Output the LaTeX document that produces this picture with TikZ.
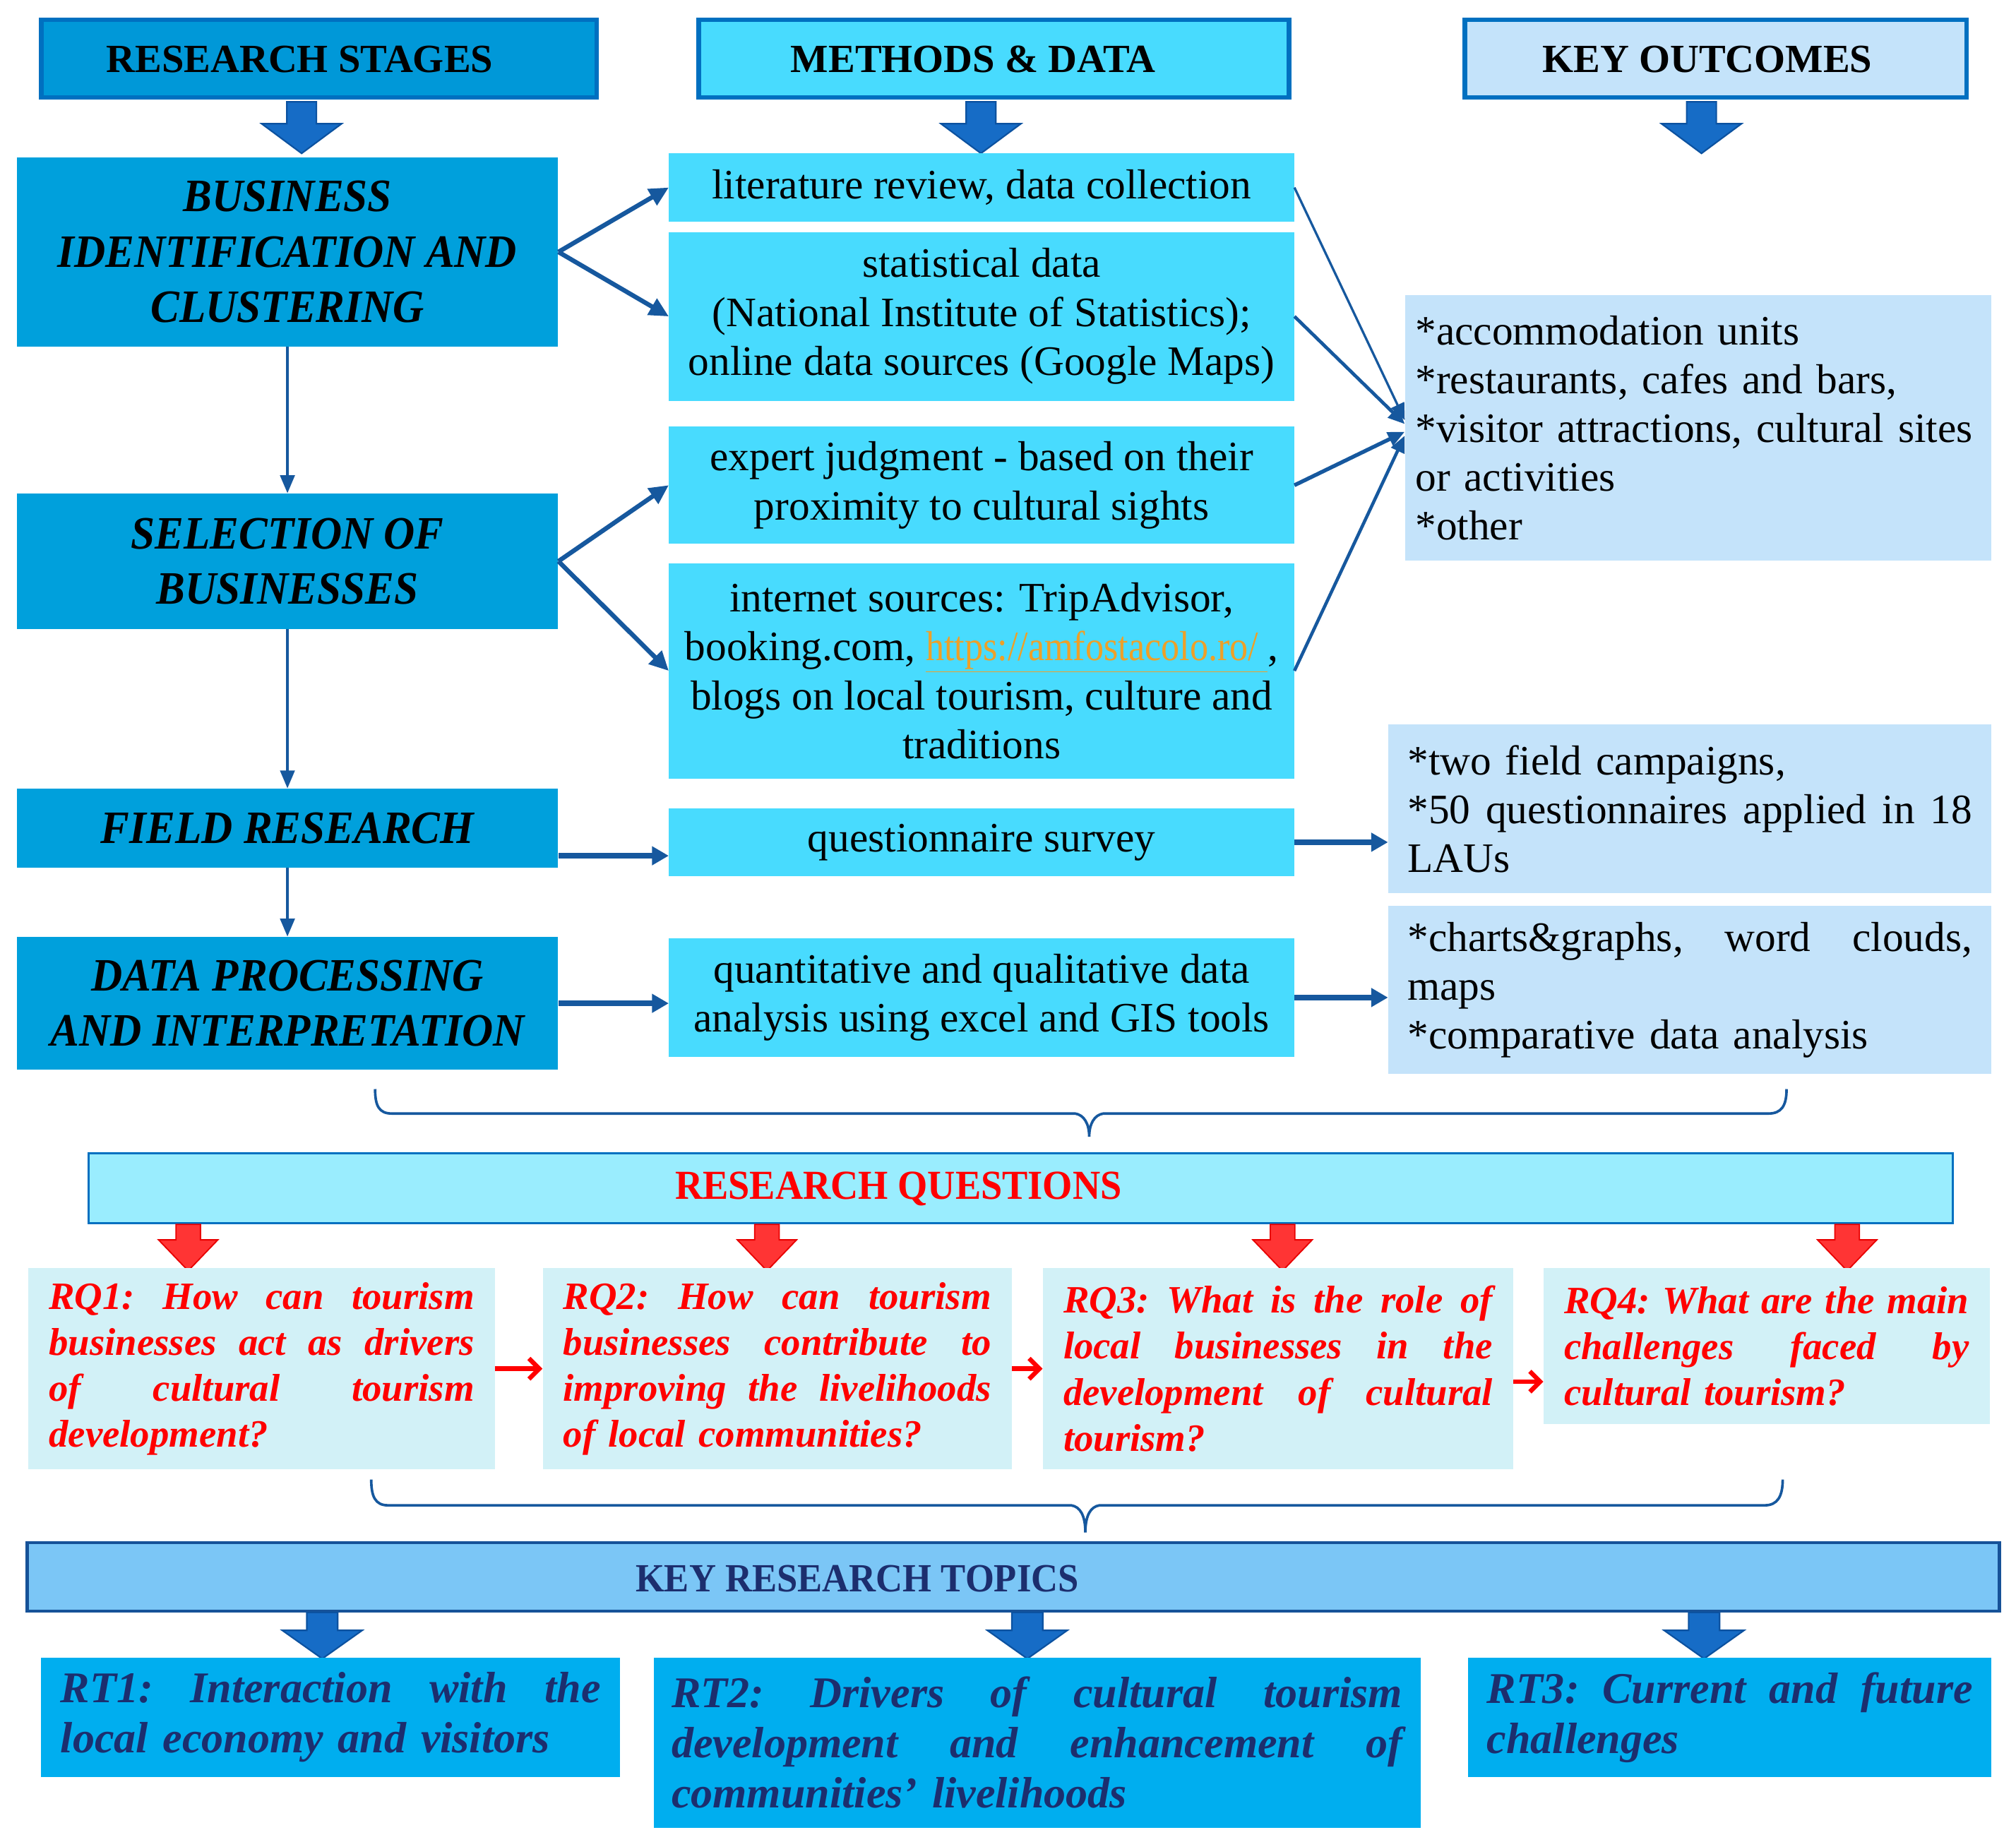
\documentclass[tikz,border=0pt]{standalone}
\usepackage{fontspec}
\setmainfont{Liberation Serif}
\newfontfamily\condserif{Liberation Serif}[FakeStretch=0.93]
\newfontfamily\narrowserif{Liberation Serif}[FakeStretch=0.88]
\usetikzlibrary{arrows.meta,calc}

\definecolor{stagefill}{RGB}{0,160,220}
\definecolor{hafill}{RGB}{0,152,216}
\definecolor{methfill}{RGB}{72,219,254}
\definecolor{outfill}{RGB}{196,227,250}
\definecolor{rqhfill}{RGB}{154,237,254}
\definecolor{rqfill}{RGB}{210,241,247}
\definecolor{krtfill}{RGB}{123,198,246}
\definecolor{krtborder}{RGB}{22,82,152}
\definecolor{rtfill}{RGB}{0,174,239}
\definecolor{hborder}{RGB}{0,112,192}
\definecolor{conncol}{RGB}{22,88,158}
\definecolor{navytext}{RGB}{28,46,110}
\definecolor{urlc}{RGB}{238,160,40}
\definecolor{barfill}{RGB}{22,108,198}
\definecolor{bardraw}{RGB}{12,82,160}
\definecolor{redfill}{RGB}{255,52,52}
\definecolor{reddraw}{RGB}{232,0,0}
\definecolor{rqred}{RGB}{255,0,0}

\newcommand{\blkarrow}[7]{%
  \path[#7] ({#1-#5},#2) -- ({#1+#5},#2) -- ({#1+#5},#3) -- ({#1+#6},#3) -- (#1,#4) -- ({#1-#6},#3) -- ({#1-#5},#3) -- cycle;}

\hyphenpenalty=10000
\exhyphenpenalty=10000

\begin{document}
\begin{tikzpicture}[x=1pt,y=-1pt,
  hdr/.style={draw=hborder, line width=3.5pt, minimum height=60pt, inner sep=0pt},
  hdrtext/.style={font=\bfseries\fontsize{31}{36}\selectfont, text=black, inner sep=0pt},
  stagebox/.style={fill=stagefill, minimum width=420pt, inner sep=0pt, align=center,
     font=\condserif\bfseries\itshape\fontsize{36}{43}\selectfont},
  methbox/.style={fill=methfill, minimum width=485pt, inner sep=0pt, align=center,
     font=\fontsize{32.5}{38}\selectfont},
  outbox/.style={fill=outfill, inner xsep=15pt, inner ysep=0pt, align=left,
     font=\fontsize{32.5}{37.8}\selectfont},
  rqbox/.style={fill=rqfill, inner xsep=16pt, inner ysep=0pt, align=left, text=rqred,
     font=\bfseries\itshape\fontsize{30}{35.7}\selectfont},
  rtbox/.style={fill=rtfill, inner xsep=15pt, inner ysep=0pt, align=left, text=navytext,
     font=\bfseries\itshape\fontsize{34}{39}\selectfont},
  bluebar/.style={fill=barfill, draw=bardraw, line width=1.2pt},
  redbar/.style={fill=redfill, draw=reddraw, line width=1pt},
  varrow/.style={draw=conncol, line width=2.5pt, -{Triangle[length=14pt,width=11pt]}},
  sarrow/.style={draw=conncol, line width=3.5pt, -{Triangle[length=15pt,width=14pt]}},
  harrow/.style={draw=conncol, line width=4.5pt, -{Triangle[length=13pt,width=14pt]}},
  oarrow/.style={draw=conncol, -{Triangle[length=13pt,width=11pt]}},
  rqarrow/.style={draw=rqred, line width=3.5pt, -{Straight Barb[length=8pt,width=16pt]}},
  bracepath/.style={draw=conncol, line width=2pt}
]
\useasboundingbox (0,0) rectangle (1564,1428.7);
\fill[white] (0,0) rectangle (1564,1428.7);

% headers
\node[hdr, fill=hafill, minimum width=431pt] (h1) at (247.5,45.5) {};
\node[hdrtext] (h1t) at (232.5,46) {RESEARCH STAGES};
\node[hdr, fill=methfill, minimum width=458pt] (h2) at (771,45.5) {};
\node[hdrtext] (h2t) at (755,46) {METHODS \& DATA};
\node[hdr, fill=outfill, minimum width=389pt] (h3) at (1331,45.5) {};
\node[hdrtext] (h3t) at (1324.5,46) {KEY OUTCOMES};

\blkarrow{234}{79}{96}{119}{11.5}{31}{bluebar}
\blkarrow{761}{79}{96}{119}{11.5}{31}{bluebar}
\blkarrow{1320}{79}{96}{119}{11.5}{31}{bluebar}

% stages
\node[stagebox, minimum height=147pt] (s1) at (223,195.5) {BUSINESS\\IDENTIFICATION AND\\CLUSTERING};
\node[stagebox, minimum height=105pt] (s2) at (223,435.5) {SELECTION OF\\BUSINESSES};
\node[stagebox, minimum height=61pt] (s3) at (223,642.5) {FIELD RESEARCH};
\node[stagebox, minimum height=103pt] (s4) at (223,778.5) {DATA PROCESSING\\AND INTERPRETATION};

% methods
\node[methbox, minimum height=53pt] (m1) at (761.5,145.5) {literature review, data collection};
\node[methbox, minimum height=131pt] (m2) at (761.5,245.5) {statistical data\\(National Institute of Statistics);\\online data sources (Google Maps)};
\node[methbox, minimum height=91pt] (m3) at (761.5,376.5) {expert judgment - based on their\\proximity to cultural sights};
\node[methbox, minimum height=167pt] (m4) at (761.5,520.5) {internet sources: TripAdvisor,\\booking.com, {\narrowserif\color{urlc}\underline{https://amfostacolo.ro/\ }},\\blogs on local tourism, culture and\\traditions};
\node[methbox, minimum height=53pt] (m5) at (761.5,653.5) {questionnaire survey};
\node[methbox, minimum height=92pt] (m6) at (761.5,774) {quantitative and qualitative data\\analysis using excel and GIS tools};

% outcomes
\node[outbox, text width=439pt, inner xsep=8pt, minimum height=206pt] (o1) at (1317.5,332) {*accommodation units\\{}*restaurants, cafes and bars,\\{}*visitor attractions, cultural sites\\or activities\\{}*other};
\node[outbox, text width=438pt, minimum height=131pt] (o2) at (1311,627.5) {*two field campaigns,\\{}*50\hfill questionnaires\hfill applied\hfill in\hfill 18\\LAUs};
\node[outbox, text width=438pt, minimum height=130pt] (o3) at (1311,768) {*charts\&graphs,\hfill word\hfill clouds,\\maps\\{}*comparative data analysis};

% stage connectors
\draw[varrow] (s1.south) -- (s2.north);
\draw[varrow] (s2.south) -- (s3.north);
\draw[varrow] (s3.south) -- (s4.north);
\draw[sarrow] (s1.east) -- (m1.west);
\draw[sarrow] (s1.east) -- (m2.west);
\draw[sarrow] (s2.east) -- (m3.west);
\draw[sarrow] (s2.east) -- (m4.west);
\coordinate (c35) at ($(s3.east)+(0,21.5)$);
\draw[harrow] (c35) -- (c35 -| m5.west);
\draw[harrow] (s4.east) -- (s4.east -| m6.west);
\draw[harrow] (m5.east) -- (m5.east -| o2.west);
\draw[harrow] (m6.east) -- (m6.east -| o3.west);
\coordinate (e1) at ($(o1.west)+(0,-6)$);
\coordinate (e2) at ($(o1.west)+(0,-3)$);
\coordinate (e3) at ($(o1.west)+(0,3)$);
\coordinate (e4) at ($(o1.west)+(0,6)$);
\draw[oarrow, line width=1.8pt] (m1.east) -- (e1);
\draw[oarrow, line width=2.6pt] (m2.east) -- (e2);
\draw[oarrow, line width=3pt] (m3.east) -- (e3);
\draw[oarrow, line width=2.5pt] (m4.east) -- (e4);

% brace 1
\draw[bracepath] (291,845) .. controls (291,858) and (294,864) .. (304,864) -- (834,864)
  .. controls (841,865) and (845,872) .. (845,882)
  .. controls (845,872) and (849,865) .. (856,864) -- (1372,864)
  .. controls (1382,864) and (1386,858) .. (1386,845);

% research questions
\node[draw=hborder, line width=1.6pt, fill=rqhfill, minimum width=1446pt, minimum height=54pt, inner sep=0pt] (rqh) at (792,922) {};
\node[font=\condserif\bfseries\fontsize{32}{36}\selectfont, text=rqred, inner sep=0pt] (rqht) at (697,922.5) {RESEARCH QUESTIONS};

\blkarrow{146}{950}{962}{986}{9.5}{23}{redbar}
\blkarrow{595}{950}{962}{986}{9.5}{23}{redbar}
\blkarrow{995}{950}{962}{986}{9.5}{23}{redbar}
\blkarrow{1433}{950}{962}{986}{9.5}{23}{redbar}

\node[rqbox, text width=330pt, minimum height=156pt] (q1) at (203,1062) {RQ1:\hfill How\hfill can\hfill tourism\\businesses\hfill act\hfill as\hfill drivers\\of\hfill cultural\hfill tourism\\development?};
\node[rqbox, text width=332pt, minimum height=156pt] (q2) at (603,1062) {RQ2:\hfill How\hfill can\hfill tourism\\businesses\hfill contribute\hfill to\\improving\hfill the\hfill livelihoods\\of local communities?};
\node[rqbox, text width=333pt, minimum height=156pt] (q3) at (991.5,1062) {RQ3:\hfill What\hfill is\hfill the\hfill role\hfill of\\local\hfill businesses\hfill in\hfill the\\development\hfill of\hfill cultural\\tourism?};
\node[rqbox, text width=314pt, minimum height=121pt] (q4) at (1370.5,1044.5) {RQ4:\hfill What\hfill are\hfill the\hfill main\\challenges\hfill faced\hfill by\\cultural tourism?};

\draw[rqarrow] (q1.east) -- (q2.west);
\draw[rqarrow] (q2.east) -- (q3.west);
\coordinate (r34) at ($(q3.east)+(0,10)$);
\draw[rqarrow] (r34) -- (r34 -| q4.west);

% brace 2
\draw[bracepath] (288,1148) .. controls (288,1161) and (291,1168) .. (301,1168) -- (831,1168)
  .. controls (838,1169) and (842,1176) .. (842,1189)
  .. controls (842,1176) and (846,1169) .. (853,1168) -- (1369,1168)
  .. controls (1379,1168) and (1383,1161) .. (1383,1148);

% key research topics
\node[draw=krtborder, line width=2.5pt, fill=krtfill, minimum width=1530pt, minimum height=53pt, inner sep=0pt] (krt) at (786,1223.5) {};
\node[font=\condserif\bfseries\fontsize{31}{36}\selectfont, text=navytext, inner sep=0pt] (krtt) at (665,1225) {KEY RESEARCH TOPICS};

\blkarrow{250}{1251}{1265}{1287}{12}{31}{bluebar}
\blkarrow{797}{1251}{1265}{1287}{12}{31}{bluebar}
\blkarrow{1322}{1251}{1265}{1287}{12}{31}{bluebar}

\node[rtbox, text width=419pt, minimum height=93pt] (t1) at (256.5,1332.5) {RT1:\hfill Interaction\hfill with\hfill the\\local economy and visitors};
\node[rtbox, text width=567pt, inner xsep=14pt, minimum height=132pt] (t2) at (804.5,1352) {RT2:\hfill Drivers\hfill of\hfill cultural\hfill tourism\\development\hfill and\hfill enhancement\hfill of\\communities’ livelihoods};
\node[rtbox, text width=377pt, inner xsep=14.5pt, minimum height=93pt] (t3) at (1342,1332.5) {RT3:\hfill Current\hfill and\hfill future\\challenges};

\end{tikzpicture}
\end{document}
